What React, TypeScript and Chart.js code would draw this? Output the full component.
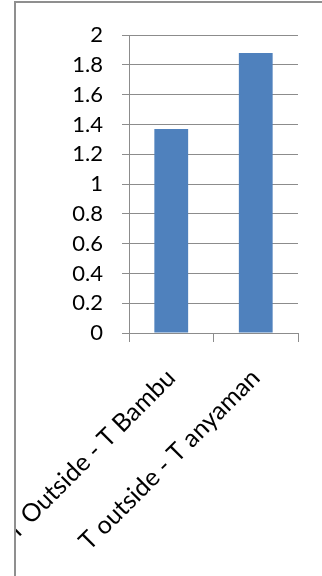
import React, { useEffect, useRef } from "react";
import { Chart, registerables } from "chart.js";

Chart.register(...registerables);

const categories = ["T Outside - T Bambu", "T outside - T anyaman"];
const values = [1.37, 1.88];
const yMin = 0;
const yMax = 2;
const yStep = 0.2;

const FONT = "Lato";
const GRID = "#8c8c8c";

export default function App() {
  const ref = useRef<HTMLCanvasElement | null>(null);

  useEffect(() => {
    const canvas = ref.current;
    if (!canvas) return;
    const chart = new Chart(canvas, {
      type: "bar",
      data: {
        labels: categories,
        datasets: [
          {
            data: values,
            backgroundColor: "#4F81BD",
            borderWidth: 0,
            barPercentage: 0.4,
            categoryPercentage: 1,
          },
        ],
      },
      options: {
        responsive: false,
        animation: false,
        devicePixelRatio: 1,
        layout: { padding: { top: 29, right: 24, left: 0, bottom: 0 } },
        plugins: { legend: { display: false }, tooltip: { enabled: false } },
        scales: {
          x: {
            offset: true,
            grid: {
              display: true,
              drawOnChartArea: false,
              drawTicks: true,
              tickLength: 9,
              color: GRID,
              offset: true,
            },
            border: { display: true, color: GRID, width: 1 },
            ticks: {
              autoSkip: false,
              minRotation: 45,
              maxRotation: 45,
              padding: 21,
              color: "#000",
              font: { family: FONT, size: 25 },
            },
            afterFit: (scale: any) => {
              scale.height = 243;
              scale.paddingLeft = 0;
              scale.paddingRight = 0;
            },
          },
          y: {
            min: yMin,
            max: yMax,
            grid: { color: GRID, tickLength: 7, drawTicks: true },
            border: { display: true, color: GRID, width: 1 },
            ticks: {
              stepSize: yStep,
              padding: 19,
              color: "#000",
              font: { family: FONT, size: 22 },
              callback: (v: any) => String(Number(Number(v).toFixed(1))),
            },
            afterFit: (scale: any) => {
              scale.width = 113;
            },
          },
        },
      },
    });
    return () => chart.destroy();
  }, []);

  return (
    <div
      style={{
        position: "absolute",
        left: 0,
        top: 0,
        width: 322,
        height: 576,
        background: "#fff",
        overflow: "hidden",
      }}
    >
      <div
        style={{
          position: "absolute",
          left: 14,
          top: 1,
          width: 400,
          height: 700,
          borderLeft: "2px solid #8f8f8f",
          borderTop: "2px solid #8f8f8f",
        }}
      />
      <canvas
        ref={ref}
        width={306}
        height={573}
        style={{ position: "absolute", left: 16, top: 3, width: 306, height: 573 }}
      />
    </div>
  );
}
